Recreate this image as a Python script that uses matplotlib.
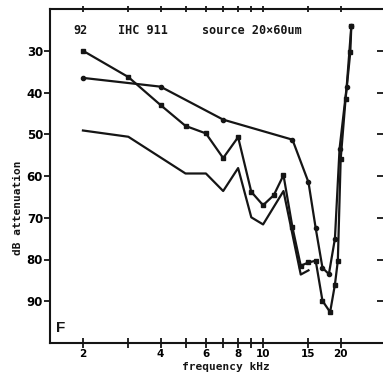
import matplotlib
matplotlib.use("Agg")
import matplotlib.pyplot as plt
from matplotlib.ticker import FixedLocator, FixedFormatter, NullLocator

# attenuation curves, frequency in kHz vs dB attenuation
sq_freq = [2, 3, 4, 5, 6, 7, 8, 9, 10, 11, 12, 13, 14, 15, 16, 17, 18.2, 19, 19.5, 20, 20.9, 21.8, 22]
sq_db = [30, 36.3, 43, 48, 49.8, 55.7, 50.7, 63.8, 67, 64.6, 59.8, 72.3, 81.5, 80.7, 80.3, 89.9, 92.6, 86, 80.3, 56, 41.5, 30.3, 24]

dot_freq = [2, 4, 7, 13, 15, 16, 17, 18, 19, 19.8, 21.1, 22]
dot_db = [36.5, 38.6, 46.5, 51.3, 61.5, 72.5, 82, 83.5, 75, 53.5, 38.7, 24]

line_freq = [2, 3, 5, 6, 7, 8, 9, 10, 12, 14, 15]
line_db = [49.1, 50.6, 59.4, 59.4, 63.6, 58.1, 69.9, 71.6, 63.6, 83.6, 82.6]

tick_freq = [2, 3, 4, 5, 6, 7, 8, 9, 10, 15, 20]
label_freq = [2, 4, 6, 8, 10, 15, 20]
db_ticks = [30, 40, 50, 60, 70, 80, 90]

fig = plt.figure(figsize=(3.83, 3.79), dpi=100)
# right edge of the frame sits just past the page edge
ax = fig.add_axes([50 / 383, 1 - 343 / 379, 339 / 383, 334 / 379])

ax.plot(line_freq, line_db, color="#151515", lw=1.6)
ax.plot(dot_freq, dot_db, color="#151515", lw=1.6, marker="o", ms=3)
ax.plot(sq_freq, sq_db, color="#151515", lw=1.6, marker="s", ms=3)

ax.set_xscale("log")
ax.set_xlim(1.49, 30.8)
ax.set_ylim(100, 20)

# bottom / top frequency ticks
ax.xaxis.set_major_locator(FixedLocator(tick_freq))
ax.xaxis.set_major_formatter(FixedFormatter(
    [str(f) if f in label_freq else "" for f in tick_freq]))
ax.xaxis.set_minor_locator(NullLocator())
ax.tick_params(axis="x", which="major", direction="inout", length=7, width=1.3,
               pad=1, labelsize=7.5, top=True, color="#151515")
ax.set_yticks(db_ticks)
ax.tick_params(axis="y", which="major", direction="out", length=4, width=1.3,
               pad=1, labelsize=8.5, right=True, color="#151515")
for t in ax.yaxis.get_major_ticks():
    t.tick2line.set_marker(matplotlib.lines.TICKLEFT)
    t.tick2line.set_markersize(9)
for t in ax.xaxis.get_major_ticks():
    t.tick2line.set_markersize(5)
for lab in ax.get_xticklabels() + ax.get_yticklabels():
    lab.set_fontweight("bold")
    lab.set_fontfamily("DejaVu Sans")

for s in ax.spines.values():
    s.set_linewidth(1.5)
    s.set_color("#151515")
ax.spines["right"].set_visible(False)

mono = dict(family="DejaVu Sans Mono", fontweight="bold", fontsize=8.5, color="#151515",
            va="center", ha="left")
fig.text(73 / 383, 1 - 30 / 379, "92", **mono)
fig.text(118 / 383, 1 - 30 / 379, "IHC 911", **mono)
fig.text(202 / 383, 1 - 30 / 379, "source 20×60um", **mono)

fig.text(226 / 383, 1 - 367 / 379, "frequency kHz", family="DejaVu Sans Mono",
         fontweight="bold", fontsize=8, ha="center", va="center", color="#151515")
fig.text(18 / 383, 1 - 208 / 379, "dB attenuation", family="DejaVu Sans Mono",
         fontweight="bold", fontsize=8, rotation=90, ha="center", va="center",
         color="#151515")
fig.text(56 / 383, 1 - 328 / 379, "F", family="Liberation Sans", fontweight="bold",
         fontsize=11, ha="left", va="center", color="#151515")

fig.savefig("out.png", dpi=100)
